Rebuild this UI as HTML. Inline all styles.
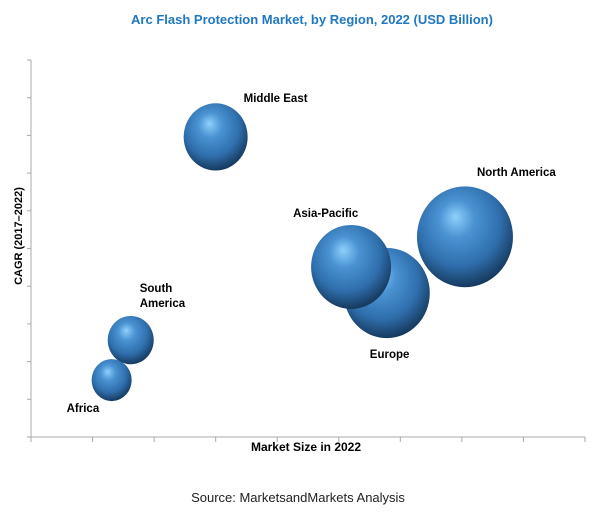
<!DOCTYPE html>
<html><head><meta charset="utf-8"><style>
body{margin:0;background:#fff;}
svg text{font-family:"Liberation Sans",Arial,sans-serif;}
</style></head><body>
<svg id="chart" width="600" height="510" viewBox="0 0 600 510">
<defs>
<radialGradient id="ball" cx="45%" cy="38%" r="62%" fx="40%" fy="30%">
<stop offset="0" stop-color="#8fd0fb"/>
<stop offset="0.3" stop-color="#4a93d3"/>
<stop offset="0.7" stop-color="#2f6eac"/>
<stop offset="1" stop-color="#163a5e"/>
</radialGradient>
</defs>
<text x="312" y="24" text-anchor="middle" font-size="13" font-weight="bold" fill="#1f78c1">Arc Flash Protection Market, by Region, 2022 (USD Billion)</text>
<g id="axes"></g>
<g id="bubbles"></g>
<text x="306" y="451" text-anchor="middle" font-size="12" font-weight="bold" fill="#000">Market Size in 2022</text>
<text transform="translate(22,236) rotate(-90)" text-anchor="middle" font-size="11" font-weight="bold" fill="#000">CAGR (2017–2022)</text>
<text x="298" y="502" text-anchor="middle" font-size="13" fill="#222">Source: MarketsandMarkets Analysis</text>
</svg>
<script>
const regions=["Middle East","North America","Asia-Pacific","Europe","South America","Africa"];
const marketSize=[3.0,7.05,5.2,5.78,1.62,1.31];
const cagr=[7.96,5.31,4.51,3.82,2.57,1.51];
const bubbleSize=[32,48,40,43,23,20];
const labelDx=[28,12,-58,-17,9,-45];
const labelDy=[-35,-61,-50,65,-48,32];
const xTicks=[0,1,2,3,4,5,6,7,8,9];
const yTicks=[0,1,2,3,4,5,6,7,8,9,10];
const X0=31,X1=585,Y0=437,Y1=60;
function xs(v){return X0+v*(X1-X0)/9;}
function ys(v){return Y0-v*(Y0-Y1)/10;}
const NS="http://www.w3.org/2000/svg";
function mk(tag,attrs,parent){const e=document.createElementNS(NS,tag);for(const k in attrs)e.setAttribute(k,attrs[k]);parent.appendChild(e);return e;}
const ax=document.getElementById('axes');
let l=mk('line',{x1:X0,y1:Y1,x2:X0,y2:Y0,stroke:'#aaa','stroke-width':1},ax);


l=mk('line',{x1:X0,y1:Y0,x2:X1,y2:Y0,stroke:'#aaa','stroke-width':1},ax);


xTicks.forEach(t=>{const e=mk('line',{x1:xs(t),y1:Y0,x2:xs(t),y2:Y0+5,stroke:'#aaa'},ax);

});
yTicks.forEach(t=>{const e=mk('line',{x1:X0-4,y1:ys(t),x2:X0,y2:ys(t),stroke:'#aaa'},ax);

});
const bg=document.getElementById('bubbles');
const order=[0,4,5,3,2,1];
order.forEach(i=>{
 const cx=xs(marketSize[i]),cy=ys(cagr[i]),r=bubbleSize[i];
 const c=mk('ellipse',{cx:cx,cy:cy,rx:r,ry:r*1.05,fill:'url(#ball)'},bg);
 
 
});
regions.forEach((n,i)=>{
 const cx=xs(marketSize[i]),cy=ys(cagr[i]);
 const t=mk('text',{x:cx+labelDx[i],y:cy+labelDy[i],'font-size':11.5,'font-weight':'bold',fill:'#000'},bg);
 
 
 if(n==="South America"){
  mk('tspan',{x:cx+labelDx[i],dy:0},t).textContent="South";
  mk('tspan',{x:cx+labelDx[i],dy:15},t).textContent="America";
 } else t.textContent=n;
});
</script>
</body></html>
